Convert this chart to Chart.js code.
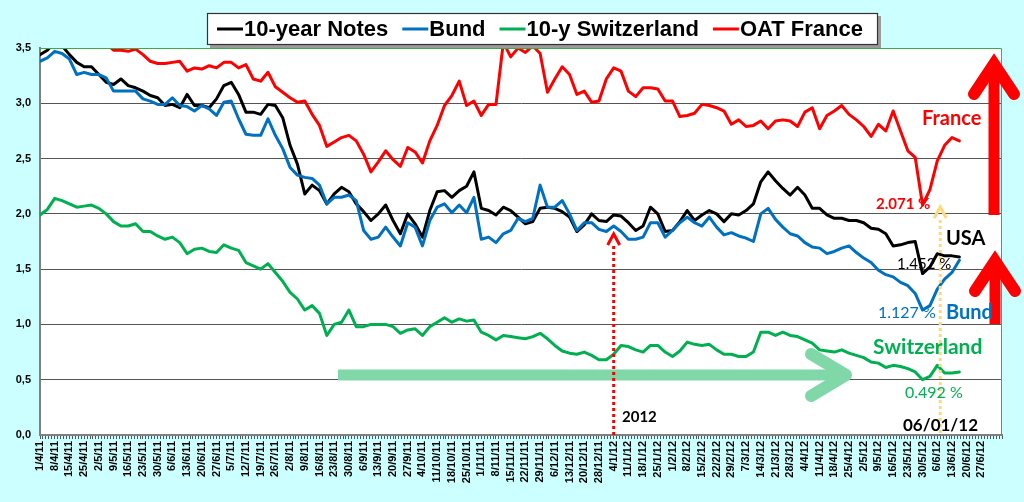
<!DOCTYPE html>
<html><head><meta charset="utf-8">
<script src="https://cdn.jsdelivr.net/npm/chart.js@4.4.1/dist/chart.umd.min.js"></script>
<style>html,body{margin:0;padding:0;background:#CCFFFF;overflow:hidden}canvas{display:block}</style>
</head><body>
<canvas id="c" width="1024" height="502" style="width:1024px;height:502px"></canvas>
<script>
// ---- data ----
const weekLabels = ['1/4/11','8/4/11','15/4/11','25/4/11','2/5/11','9/5/11','16/5/11','23/5/11','30/5/11','6/6/11','13/6/11','20/6/11','27/6/11','5/7/11','12/7/11','19/7/11','26/7/11','2/8/11','9/8/11','16/8/11','23/8/11','30/8/11','6/9/11','13/9/11','20/9/11','27/9/11','4/10/11','11/10/11','18/10/11','25/10/11','1/11/11','8/11/11','15/11/11','22/11/11','29/11/11','6/12/11','13/12/11','20/12/11','28/12/11','4/1/12','11/1/12','18/1/12','25/1/12','1/2/12','8/2/12','15/2/12','22/2/12','29/2/12','7/3/12','14/3/12','21/3/12','28/3/12','4/4/12','11/4/12','18/4/12','25/4/12','2/5/12','9/5/12','16/5/12','23/5/12','30/5/12','6/6/12','13/6/12','20/6/12','27/6/12'];
const DAYS_PER_WEEK = 5;      // business days between week labels
const SAMPLE_STEP = 2.5;      // business days between samples (two per week)
const seriesNames = ['10-year Notes','Bund','10-y Switzerland','OAT France'];
const usNotes = [3.44,3.48,3.55,3.52,3.44,3.37,3.33,3.33,3.26,3.19,
 3.17,3.22,3.16,3.14,3.11,3.07,3.05,2.98,2.99,2.96,
 3.08,2.98,2.98,2.96,3.04,3.16,3.19,3.08,2.92,2.92,
 2.90,2.99,2.98,2.87,2.62,2.45,2.18,2.26,2.21,2.09,
 2.18,2.24,2.20,2.09,2.02,1.94,2.00,2.08,1.94,1.82,
 2.00,1.91,1.79,2.03,2.20,2.21,2.15,2.21,2.25,2.38,
 2.05,2.03,1.99,2.06,2.03,1.97,1.91,1.93,2.05,2.06,
 2.05,2.02,1.97,1.84,1.90,2.00,1.94,1.93,1.99,1.98,
 1.92,1.85,1.89,2.06,2.00,1.84,1.85,1.93,2.03,1.94,
 1.99,2.03,2.00,1.93,2.00,1.99,2.03,2.09,2.29,2.38,
 2.30,2.23,2.17,2.24,2.17,2.05,2.05,1.99,1.96,1.96,
 1.94,1.94,1.92,1.87,1.86,1.82,1.71,1.72,1.74,1.75,
 1.46,1.52,1.64,1.62,1.62,1.61];
const bund = [3.38,3.41,3.47,3.45,3.40,3.26,3.28,3.26,3.26,3.23,
 3.11,3.11,3.11,3.11,3.04,3.02,2.99,2.99,3.05,2.98,
 2.97,2.93,2.98,2.95,2.89,3.01,3.02,2.86,2.72,2.71,
 2.71,2.86,2.71,2.59,2.42,2.35,2.33,2.32,2.26,2.09,
 2.15,2.15,2.17,2.12,1.85,1.77,1.79,1.88,1.79,1.71,
 1.92,1.88,1.71,1.94,2.06,2.09,2.01,2.08,2.01,2.15,
 1.77,1.79,1.74,1.82,1.85,1.96,1.93,1.96,2.26,2.06,
 2.06,2.12,2.00,1.85,1.92,1.92,1.86,1.84,1.89,1.84,
 1.77,1.77,1.79,1.92,1.92,1.79,1.85,1.92,1.97,1.92,
 1.89,1.97,1.88,1.81,1.83,1.80,1.78,1.75,2.00,2.05,
 1.95,1.88,1.82,1.80,1.74,1.70,1.69,1.64,1.66,1.69,
 1.71,1.65,1.60,1.56,1.49,1.45,1.43,1.38,1.35,1.28,
 1.13,1.17,1.32,1.41,1.47,1.58];
const swiss = [1.99,2.04,2.14,2.12,2.09,2.06,2.07,2.08,2.05,2.00,
 1.93,1.89,1.89,1.91,1.84,1.84,1.80,1.77,1.79,1.74,
 1.64,1.68,1.69,1.66,1.65,1.72,1.69,1.67,1.56,1.53,
 1.50,1.55,1.47,1.39,1.29,1.23,1.13,1.17,1.10,0.90,
 1.00,1.02,1.13,0.98,0.98,1.00,1.00,1.00,0.98,0.92,
 0.95,0.96,0.90,0.98,1.02,1.06,1.02,1.05,1.03,1.04,
 0.93,0.90,0.86,0.90,0.89,0.88,0.87,0.89,0.92,0.87,
 0.81,0.76,0.74,0.73,0.75,0.72,0.68,0.68,0.73,0.81,
 0.80,0.77,0.75,0.81,0.81,0.75,0.71,0.76,0.84,0.82,
 0.81,0.82,0.77,0.73,0.73,0.71,0.71,0.75,0.93,0.93,
 0.90,0.93,0.90,0.89,0.86,0.83,0.77,0.76,0.75,0.77,
 0.74,0.72,0.70,0.66,0.65,0.61,0.63,0.62,0.60,0.57,
 0.50,0.53,0.63,0.56,0.56,0.57];
const oatFrance = [3.62,3.65,3.68,3.66,3.63,3.60,3.62,3.58,3.56,3.54,
 3.48,3.48,3.47,3.49,3.44,3.38,3.36,3.36,3.37,3.38,
 3.29,3.32,3.31,3.34,3.32,3.37,3.37,3.32,3.35,3.22,
 3.20,3.28,3.15,3.10,3.05,3.01,3.02,2.90,2.80,2.61,
 2.65,2.69,2.71,2.66,2.54,2.38,2.47,2.57,2.49,2.43,
 2.60,2.56,2.46,2.66,2.80,2.98,3.07,3.20,2.98,3.02,
 2.89,2.99,2.99,3.55,3.42,3.50,3.46,3.52,3.45,3.10,
 3.22,3.33,3.26,3.08,3.11,3.01,3.02,3.22,3.32,3.29,
 3.11,3.06,3.14,3.14,3.13,3.02,3.02,2.88,2.89,2.91,
 2.99,2.98,2.96,2.93,2.81,2.85,2.79,2.80,2.84,2.77,
 2.84,2.85,2.84,2.79,2.92,2.96,2.77,2.89,2.93,2.98,
 2.90,2.85,2.79,2.70,2.81,2.75,2.93,2.75,2.57,2.51,
 2.08,2.22,2.48,2.62,2.69,2.66];
const yMin = 0, yMax = 3.5, yStep = 0.5;
const xMaxDay = 327;
const event2012Day = weekLabels.indexOf('4/1/12') * DAYS_PER_WEEK;
const eventJuneDay = weekLabels.indexOf('6/6/12') * DAYS_PER_WEEK + 1;

// ---- styling ----
const colors = ['#000000','#0070C0','#00B050','#FF0000'];
const toPts = arr => arr.map((v,k) => ({x: k * SAMPLE_STEP, y: v}));
const AX_FONT = 'Arial, "Liberation Sans", sans-serif';
const CAL = 'Lato, "Open Sans", sans-serif';

function chevron(ctx, x, yTip, dx, dy){
  ctx.beginPath(); ctx.moveTo(x-dx, yTip+dy); ctx.lineTo(x, yTip); ctx.lineTo(x+dx, yTip+dy); ctx.stroke();
}
function dottedArrow(ctx, x, yBottom, yTip, color){
  ctx.save(); ctx.strokeStyle = color; ctx.lineWidth = 3;
  ctx.setLineDash([3,3]);
  ctx.beginPath(); ctx.moveTo(x, yBottom); ctx.lineTo(x, yTip + 13); ctx.stroke();
  ctx.setLineDash([]); ctx.lineJoin = 'miter';
  chevron(ctx, x, yTip + 2, 6, 11);
  ctx.restore();
}
function bigArrow(ctx, x, yTail, yTipPath){
  ctx.save(); ctx.strokeStyle = '#FF0000';
  ctx.lineWidth = 11; ctx.lineCap = 'butt';
  ctx.beginPath(); ctx.moveTo(x, yTail); ctx.lineTo(x, yTipPath + 4); ctx.stroke();
  ctx.lineWidth = 12; ctx.lineCap = 'round'; ctx.lineJoin = 'miter'; ctx.miterLimit = 10;
  chevron(ctx, x, yTipPath, 20, 30);
  ctx.restore();
}

const decor = {
  id: 'decor',
  beforeDraw(chart){
    const {ctx, chartArea: a} = chart;
    ctx.save();
    ctx.fillStyle = '#CCFFFF'; ctx.fillRect(0, 0, chart.width, chart.height);
    ctx.fillStyle = '#FFFFFF'; ctx.fillRect(a.left, a.top, a.right - a.left, a.bottom - a.top);
    ctx.restore();
  },
  beforeDatasetsDraw(chart){
    const {ctx} = chart;
    ctx.save();
    ctx.strokeStyle = '#80D8A8';
    ctx.lineWidth = 11; ctx.lineCap = 'butt';
    ctx.beginPath(); ctx.moveTo(338, 375); ctx.lineTo(842, 375); ctx.stroke();
    ctx.lineWidth = 12; ctx.lineCap = 'round'; ctx.lineJoin = 'round';
    ctx.beginPath(); ctx.moveTo(811, 354); ctx.lineTo(846, 375); ctx.lineTo(811, 396); ctx.stroke();
    ctx.restore();
  },
  afterDatasetsDraw(chart){
    const {ctx, scales:{x}, chartArea: a} = chart;
    dottedArrow(ctx, x.getPixelForValue(event2012Day), a.bottom, 232, '#FF0000');
    dottedArrow(ctx, x.getPixelForValue(eventJuneDay), a.bottom - 2, 205, '#FFD878');
  },
  afterDraw(chart){
    const {ctx, chartArea: a} = chart;
    ctx.save();
    // plot border (top/right)
    ctx.strokeStyle = '#3FAA4A'; ctx.lineWidth = 1;
    ctx.beginPath(); ctx.moveTo(a.left, a.top + 0.5); ctx.lineTo(a.right - 0.5, a.top + 0.5); ctx.lineTo(a.right - 0.5, a.bottom); ctx.stroke();
    // legend box
    const lx = 207, ly = 13, lw = 671, lh = 32;
    ctx.fillStyle = '#9A9A9A'; ctx.fillRect(lx + 3, ly + 3, lw, lh);
    ctx.fillStyle = '#FFFFFF'; ctx.fillRect(lx, ly, lw, lh);
    ctx.strokeStyle = '#333333'; ctx.lineWidth = 1.2; ctx.strokeRect(lx + 0.5, ly + 0.5, lw - 1, lh - 1);
    ctx.font = 'bold 22px ' + AX_FONT; ctx.textBaseline = 'middle'; ctx.textAlign = 'left';
    let cx = 217; const cy = 29;
    seriesNames.forEach((name, k) => {
      ctx.fillStyle = colors[k]; ctx.fillRect(cx, cy - 1.5, 26, 3);
      ctx.fillStyle = '#000000'; ctx.fillText(name, cx + 27, cy + 1);
      cx += 27 + ctx.measureText(name).width + 14;
    });
    // big red arrows
    bigArrow(ctx, 994, 215, 64);
    bigArrow(ctx, 995, 324, 261);
    // annotations
    const texts = [
      ['France', 922, 119, 'bold 20px ' + CAL, '#FF0000'],
      ['2.071 %', 876, 204, 'bold 15px ' + CAL, '#FF0000'],
      ['USA', 946, 239, 'bold 20px ' + CAL, '#000000'],
      ['1.452 %', 897, 264, '15px ' + CAL, '#000000'],
      ['1.127 %', 878, 313, '16px ' + CAL, '#0070C0'],
      ['Bund', 946, 313, 'bold 20px ' + CAL, '#0070C0'],
      ['Switzerland', 873, 347, 'bold 21px ' + CAL, '#00B050'],
      ['0.492 %', 905, 393, '16px ' + CAL, '#00B050'],
      ['06/01/12', 903, 426, 'bold 17px ' + CAL, '#000000'],
      ['2012', 622, 417, 'bold 15px ' + CAL, '#000000']
    ];
    ctx.textBaseline = 'middle'; ctx.textAlign = 'left';
    texts.forEach(([t, x, y, f, c]) => { ctx.font = f; ctx.fillStyle = c; ctx.fillText(t, x, y); });
    ctx.restore();
  }
};

Chart.defaults.animation = false;
new Chart(document.getElementById('c'), {
  type: 'line',
  data: {
    datasets: [usNotes, bund, swiss, oatFrance].map((arr, k) => ({
      label: seriesNames[k], data: toPts(arr), borderColor: colors[k], backgroundColor: colors[k],
      borderWidth: 3, pointRadius: 0, fill: false, tension: 0,
      borderJoinStyle: 'round', borderCapStyle: 'round', order: 3 - k
    }))
  },
  options: {
    responsive: false, animation: false, devicePixelRatio: 1,
    layout: { padding: { top: 48, right: 22, left: 0, bottom: 0 } },
    plugins: { legend: { display: false }, tooltip: { enabled: false } },
    scales: {
      x: {
        type: 'linear', min: 0, max: xMaxDay,
        ticks: {
          stepSize: 1, autoSkip: false, maxRotation: 90, minRotation: 90, padding: 2,
          color: '#000', font: { family: AX_FONT, size: 11, weight: 'bold' },
          callback: v => (Number.isInteger(v) && v % DAYS_PER_WEEK === 0 && weekLabels[v / DAYS_PER_WEEK]) ? weekLabels[v / DAYS_PER_WEEK] : ''
        },
        grid: { drawOnChartArea: false, drawTicks: true, tickLength: 4, color: '#555' },
        border: { color: '#808080', width: 2 },
        afterFit: s => { s.height = 67; }
      },
      y: {
        min: yMin, max: yMax,
        ticks: {
          stepSize: yStep, padding: 9, color: '#000',
          font: { family: AX_FONT, size: 11, weight: 'bold' },
          callback: v => v.toFixed(1).replace('.', ',')
        },
        grid: { color: ctx => (ctx.tick && ctx.tick.value >= yMax) ? 'rgba(0,0,0,0)' : '#555', drawTicks: false, tickLength: 0, lineWidth: 1 },
        border: { color: '#808080', width: 2 },
        afterFit: s => { s.width = 40; }
      }
    }
  },
  plugins: [decor]
});
</script>
</body></html>
